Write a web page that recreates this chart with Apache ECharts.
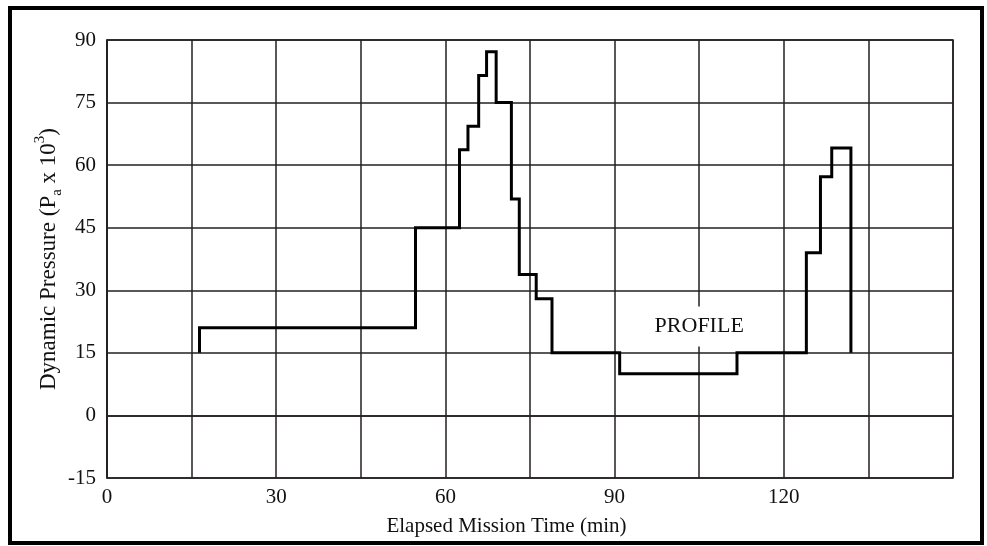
<!DOCTYPE html>
<html>
<head>
<meta charset="utf-8">
<script src="https://cdn.jsdelivr.net/npm/echarts@6/dist/echarts.min.js"></script>
<style>
html,body{margin:0;padding:0;background:#fff;}
#chart{width:987px;height:546px;}
</style>
</head>
<body>
<div id="chart"></div>
<script>
// Times (min) at which the profile steps to a new level
const stepTimes = [16.4, 54.7, 62.5, 64.0, 65.9, 67.3, 69.0, 71.7, 73.1, 76.1, 78.9, 90.9, 111.7, 124.0, 126.5, 128.5, 131.9];
// Level (Pa x 10^3) held from stepTimes[i] to stepTimes[i+1]
const stepLevels = [21, 45, 63.7, 69.3, 81.5, 87.2, 75, 51.9, 33.8, 28, 15, 10, 15, 39, 57.2, 64.1];
// Level at the start and end of the profile
const baseLevel = 15;
// Axis ticks
const xTickLabels = [0, 30, 60, 90, 120];
const yTicks = [-15, 0, 15, 30, 45, 60, 75, 90];
// Annotation
const profileLabel = { text: 'PROFILE', time: 105, value: 21.3 };

const pts = [[stepTimes[0], baseLevel]];
for (let i = 0; i < stepLevels.length; i++) {
  pts.push([stepTimes[i], stepLevels[i]]);
  pts.push([stepTimes[i + 1], stepLevels[i]]);
}
pts.push([stepTimes[stepTimes.length - 1], baseLevel]);

const FONT = '"Liberation Serif", "Times New Roman", serif';
const GRID = '#231f20';
const TXT = '#111';

const chart = echarts.init(document.getElementById('chart'), null, { renderer: 'canvas' });
chart.setOption({
  animation: false,
  backgroundColor: '#fff',
  graphic: [{
    type: 'rect',
    shape: { x: 10, y: 8, width: 972, height: 535 },
    style: { fill: 'none', stroke: '#000', lineWidth: 4 },
    silent: true
  }],
  grid: {
    left: 107, right: 34, top: 40, bottom: 68,
    show: true, borderColor: GRID, borderWidth: 1.5, backgroundColor: 'transparent'
  },
  xAxis: {
    type: 'value',
    min: 0, max: 150, interval: 15,
    name: 'Elapsed Mission Time (min)',
    nameLocation: 'middle',
    nameGap: 38,
    nameMoveOverlap: false,
    nameTextStyle: { fontFamily: FONT, fontSize: 21, color: TXT, padding: [0, 47, 0, 0] },
    axisLine: { show: true, lineStyle: { color: GRID, width: 1.5 } },
    axisTick: { show: false },
    axisLabel: {
      margin: 9,
      fontFamily: FONT, fontSize: 21, color: TXT,
      formatter: v => (xTickLabels.indexOf(v) >= 0 ? String(v) : '')
    },
    splitLine: { show: true, lineStyle: { color: GRID, width: 1.5 } }
  },
  yAxis: {
    type: 'value',
    min: yTicks[0], max: yTicks[yTicks.length - 1], interval: 15,
    name: 'Dynamic Pressure (P{sub|a} x 10{sup|3})',
    nameLocation: 'middle',
    nameGap: 42,
    nameMoveOverlap: false,
    nameRotate: 90,
    nameTextStyle: {
      fontFamily: FONT, fontSize: 23, color: TXT, lineHeight: 32,
      rich: {
        sub: { fontFamily: FONT, fontSize: 15, color: TXT, lineHeight: 24, verticalAlign: 'bottom' },
        sup: { fontFamily: FONT, fontSize: 15, color: TXT, lineHeight: 19, verticalAlign: 'top' }
      }
    },
    axisLine: { show: true, lineStyle: { color: GRID, width: 1.5 } },
    axisTick: { show: false },
    axisLabel: {
      margin: 11,
      fontFamily: FONT, fontSize: 21, color: TXT,
      formatter: v => (yTicks.indexOf(v) >= 0 ? String(v) : '')
    },
    splitLine: { show: true, lineStyle: { color: GRID, width: 1.5 } }
  },
  series: [{
    type: 'line',
    data: pts,
    showSymbol: false,
    symbol: 'none',
    lineStyle: { color: '#000', width: 3, join: 'miter' },
    z: 3
  }, {
    type: 'scatter',
    data: [[profileLabel.time, profileLabel.value]],
    symbolSize: 0,
    itemStyle: { opacity: 1 },
    z: 4,
    label: {
      show: true,
      position: 'inside',
      formatter: profileLabel.text,
      fontFamily: FONT, fontSize: 22, color: TXT,
      backgroundColor: '#fff',
      padding: [16, 6, 2, 6]
    }
  }]
});
</script>
</body>
</html>
